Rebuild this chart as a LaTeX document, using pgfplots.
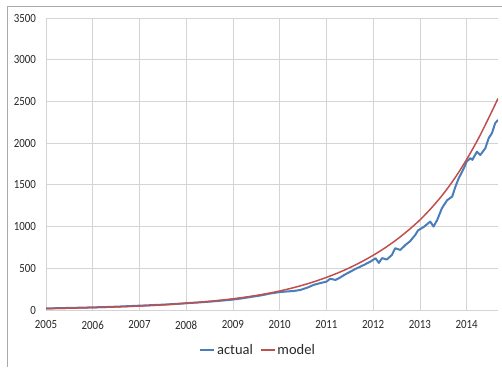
\documentclass[border=0pt]{standalone}
\usepackage{pgfplots}
\pgfplotsset{compat=1.18}
\usepackage{fontspec}
\setmainfont{Carlito}
\newfontfamily\tickfont[FakeStretch=0.87]{Carlito}

\definecolor{actualblue}{RGB}{74,126,187}
\definecolor{modelred}{RGB}{192,80,77}
\definecolor{gridgray}{RGB}{212,212,212}
\definecolor{framegray}{RGB}{170,170,170}
\definecolor{labelgray}{RGB}{40,40,40}

\begin{document}
\begin{tikzpicture}[x=1bp,y=1bp]
\useasboundingbox (0,0) rectangle (502,367);
\draw[framegray, line width=1bp] (7.5,0) -- (7.5,360.5) -- (502,360.5);
\begin{axis}[
  at={(46bp,57bp)}, anchor=south west,
  scale only axis, width=452bp, height=292bp,
  xmin=2005, xmax=2014.67,
  ymin=0, ymax=3500,
  xtick={2005,2006,...,2014},
  ytick={0,500,...,3500},
  axis line style={draw=none},
  major tick length=0pt,
  grid=major,
  major grid style={gridgray, line width=0.9bp},
  /pgf/number format/assume math mode=true,
  /pgf/number format/1000 sep={},
  ticklabel style={font=\tickfont\fontsize{12.5bp}{14bp}\selectfont, text=labelgray, inner sep=0pt},
  yticklabel style={anchor=east, xshift=-10bp},
  xticklabel style={anchor=north, yshift=-10.5bp},
  legend columns=2,
  legend style={draw=none, fill=none, at={(0.469,-0.137)}, anchor=center,
    font=\fontsize{14.5bp}{16bp}\selectfont, text=labelgray,
    /tikz/every even column/.append style={column sep=5bp}},
  legend cell align=left,
  legend image code/.code={\draw[#1] (0bp,0bp) -- (14bp,0bp);},
]
\addplot[actualblue, line width=2bp, line join=round] coordinates {
 (2005.00,18) (2005.25,22) (2005.50,25) (2005.75,28) (2006.00,32)
 (2006.25,35) (2006.50,40) (2006.75,46) (2007.00,52) (2007.25,58)
 (2007.50,64) (2007.75,72) (2008.00,82) (2008.25,90) (2008.50,100)
 (2008.75,112) (2009.00,125) (2009.20,140) (2009.40,158) (2009.60,175)
 (2009.80,198) (2010.00,215) (2010.15,222) (2010.30,228) (2010.44,240)
 (2010.60,270) (2010.72,300) (2010.85,320) (2011.00,340) (2011.08,375)
 (2011.19,360) (2011.28,385) (2011.38,420) (2011.51,460) (2011.65,500)
 (2011.80,540) (2011.94,580) (2012.05,620) (2012.12,565) (2012.19,622)
 (2012.29,605) (2012.40,660) (2012.47,740) (2012.58,720) (2012.69,780)
 (2012.79,825) (2012.90,900) (2012.96,955) (2013.08,995) (2013.22,1060)
 (2013.29,1000) (2013.37,1080) (2013.47,1220) (2013.58,1315) (2013.69,1360)
 (2013.76,1480) (2013.83,1580) (2013.94,1700) (2014.00,1780) (2014.08,1820)
 (2014.12,1800) (2014.22,1898) (2014.29,1858) (2014.40,1940) (2014.47,2060)
 (2014.54,2120) (2014.61,2240) (2014.67,2278)
};
\addlegendentry{actual}
\addplot[modelred, line width=1.5bp, smooth] coordinates {
 (2005.00,16.9) (2005.25,19.2) (2005.50,21.9) (2005.75,24.9) (2006.00,28.4)
 (2006.25,32.3) (2006.50,36.8) (2006.75,41.9) (2007.00,47.7) (2007.25,54.3)
 (2007.50,61.8) (2007.75,70.4) (2008.00,80.1) (2008.25,91.2) (2008.50,103.8)
 (2008.75,118.2) (2009.00,134.6) (2009.25,153.2) (2009.50,174.4) (2009.75,199.5)
 (2010.00,228.0) (2010.25,261.0) (2010.50,299.0) (2010.75,342.0) (2011.00,391.0)
 (2011.25,446.0) (2011.50,508.0) (2011.75,578.0) (2012.00,656.0) (2012.25,744.0)
 (2012.50,843.0) (2012.75,955.0) (2013.00,1080) (2013.25,1226) (2013.50,1392)
 (2013.75,1584) (2014.00,1806) (2014.25,2055) (2014.50,2336) (2014.67,2535)
};
\addlegendentry{model}
\end{axis}
\end{tikzpicture}
\end{document}
